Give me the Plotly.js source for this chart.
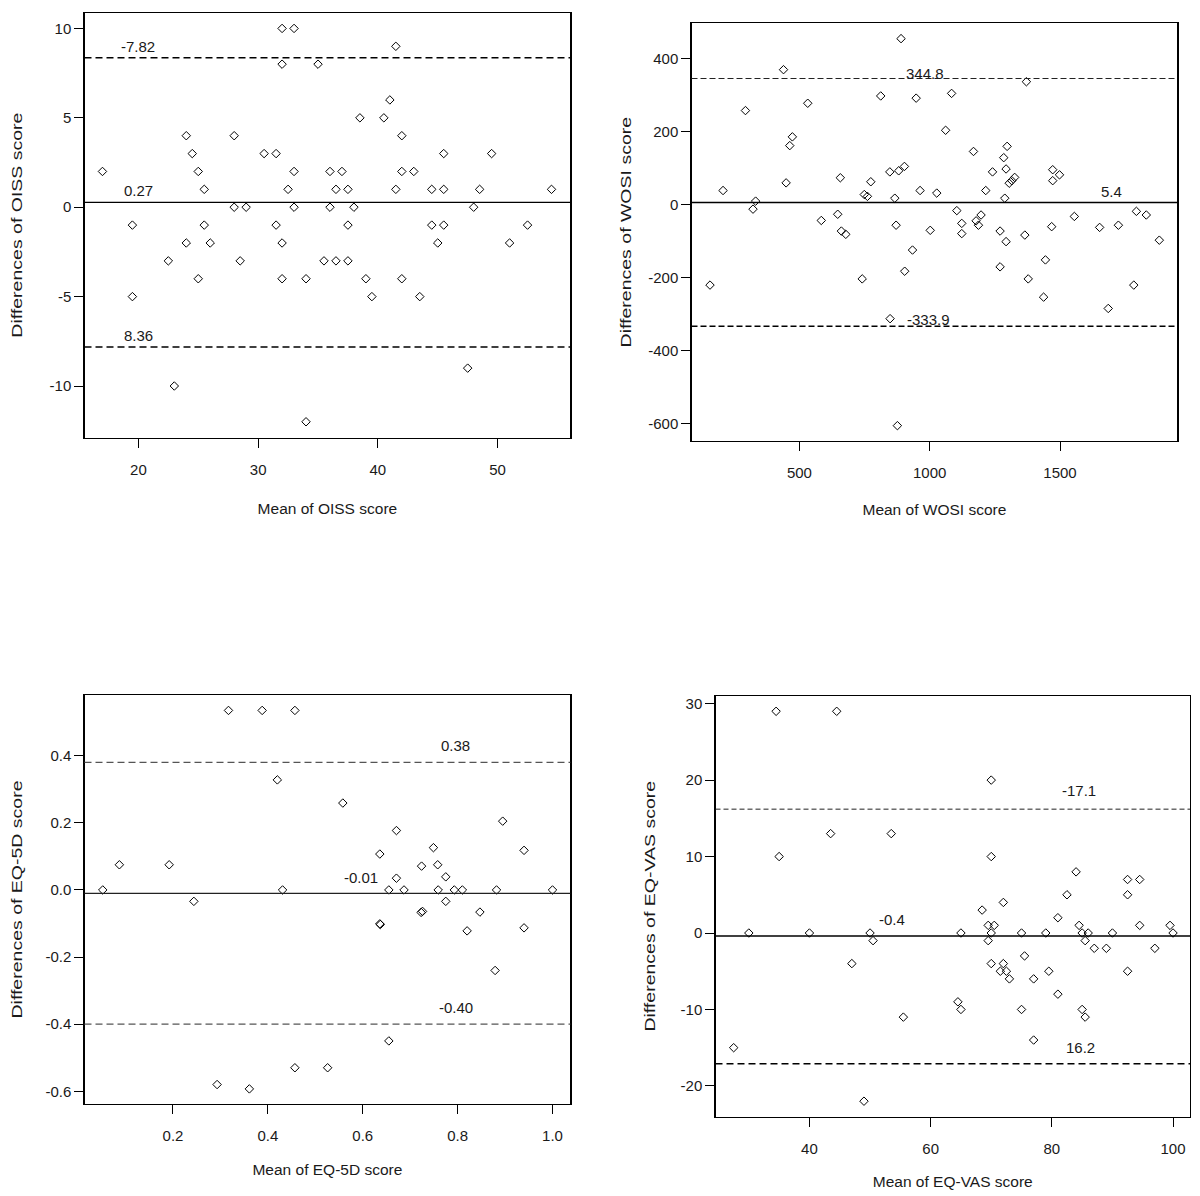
<!DOCTYPE html>
<html>
<head>
<meta charset="utf-8">
<script src="https://cdn.plot.ly/plotly-3.0.1.min.js"></script>
<style>html,body{margin:0;padding:0;background:#fff;}#chart{width:1200px;height:1196px;}</style>
</head>
<body>
<div id="chart"></div>
<script>
// ---------- Panel A: OISS ----------
const oissMean = [17,19.5,19.5,22.5,23,24,24,24.5,25,25,25.5,25.5,26,28,28,28.5,29,30.5,31.5,31.5,32,32,32,32,32.5,33,33,33,34,34,35,35.5,36,36,
  41.5,41,38.5,40.5,42,45.5,49.5,37,42,43,36.5,37.5,41.5,44.5,45.5,48.5,54.5,38,48,37.5,44.5,45.5,52.5,45,51,36.5,37.5,39,42,39.5,43.5,47.5];
const oissDiff = [2,-1,-5,-3,-10,4,-2,3,2,-4,1,-1,-2,4,0,-3,0,3,3,-1,10,8,-2,-4,1,10,2,0,-4,-12,8,-3,2,0,
  9,6,5,5,4,3,3,2,2,2,1,1,1,1,1,1,1,0,0,-1,-1,-1,-1,-2,-2,-3,-3,-4,-4,-5,-5,-9];
const oissLines = [8.36, 0.27, -7.82];
const oissLineLabels = ['-7.82', '0.27', '8.36'];
const oissLabelX = [20, 20, 20];
const oissXTicks = [20, 30, 40, 50];
const oissYTicks = [-10, -5, 0, 5, 10];

// ---------- Panel B: WOSI ----------
const wosiMean = [890,439,812,948,532,293,473,463,903,881,847,657,774,449,207,963,1027,749,761,866,332,322,647,584,871,661,678,1002,934,904,741,157,848,876,
  1371,1084,1061,1168,1297,1284,1293,1241,1326,1315,1305,1472,1498,1472,1215,1288,1104,1123,1123,1178,1187,1197,1270,1293,1365,1468,1555,1652,1724,1793,1831,1881,1270,1444,1378,1437,1783,1685];
const wosiDiff = [454,369,297,291,277,257,185,161,104,92,89,73,62,59,38,38,31,27,22,17,9,-13,-27,-44,-57,-73,-82,-71,-125,-183,-204,-221,-313,-606,
  336,304,203,145,159,128,97,89,74,65,58,95,81,65,38,17,-17,-52,-80,-45,-57,-29,-73,-102,-84,-61,-33,-63,-57,-19,-29,-98,-171,-152,-204,-254,-221,-285];
const wosiLines = [344.8, 5.4, -333.9];
const wosiLineLabels = ['344.8', '5.4', '-333.9'];
const wosiLabelX = [980, 1699, 995];
const wosiXTicks = [500, 1000, 1500];
const wosiYTicks = [-600, -400, -200, 0, 200, 400];

// ---------- Panel C: EQ-5D ----------
const eq5dMean = [0.317,0.388,0.457,0.420,0.087,0.192,0.052,0.431,0.244,0.293,0.361,0.457,0.526,
  0.558,0.895,0.671,0.940,0.636,0.749,0.724,0.758,0.775,0.671,0.655,0.687,0.759,0.793,0.810,0.882,1.0,0.775,0.847,0.723,0.726,0.636,0.637,0.820,0.940,0.879,0.655];
const eq5dDiff = [0.535,0.535,0.535,0.328,0.075,0.075,0,0,-0.034,-0.58,-0.593,-0.53,-0.53,
  0.259,0.205,0.177,0.118,0.107,0.126,0.071,0.075,0.039,0.035,0,0,0,0,0,0,0,-0.034,-0.066,-0.067,-0.064,-0.101,-0.103,-0.122,-0.113,-0.24,-0.45];
const eq5dLines = [0.38, -0.01, -0.40];
const eq5dLineLabels = ['0.38', '-0.01', '-0.40'];
const eq5dLabelX = [0.795, 0.596, 0.796];
const eq5dXTicks = [0.2, 0.4, 0.6, 0.8, 1.0];
const eq5dYTicks = [-0.6, -0.4, -0.2, 0.0, 0.2, 0.4];

// ---------- Panel D: EQ-VAS ----------
const vasMean = [34.5,44.5,43.5,53.5,35,30,40,50,50.5,47,55.5,27.5,49,
  70,70,84,92.5,94.5,82.5,92.5,72,68.5,81,69.5,70.5,84.5,94.5,99.5,65,70,75,79,85,86,90,100,69.5,85.5,87,89,97,75.5,70,72,71.5,72.5,79.5,92.5,73,77,81,64.5,65,75,85,85.5,77];
const vasDiff = [29,29,13,13,10,0,0,0,-1,-4,-11,-15,-22,
  20,10,8,7,7,5,5,4,3,2,1,1,1,1,1,0,0,0,0,0,0,0,0,-1,-1,-2,-2,-2,-3,-4,-4,-5,-5,-5,-5,-6,-6,-8,-9,-10,-10,-10,-11,-14];
const vasLines = [16.2, -0.4, -17.1];
const vasLineLabels = ['-17.1', '-0.4', '16.2'];
const vasLabelX = [84.5, 53.7, 84.7];
const vasXTicks = [40, 60, 80, 100];
const vasYTicks = [-20, -10, 0, 10, 20, 30];

// ---------- layout helpers ----------
const W = 1200, H = 1196;
const FONT = 'Liberation Sans, Arial, sans-serif';
const TXT = '#1a1a1a';
function px2dom(x0, x1) { return [x0 / W, x1 / W]; }
function py2dom(y0, y1) { return [1 - y1 / H, 1 - y0 / H]; }
function fmt(v, digits) { return (digits ? v.toFixed(digits) : String(v)); } // plain hyphen-minus

const panels = [
  {mean: oissMean, diff: oissDiff, lines: oissLines, labels: oissLineLabels, labelX: oissLabelX,
   xt: oissXTicks, yt: oissYTicks, xd: 0, yd: 0,
   xtitle: 'Mean of OISS score', ytitle: 'Differences of OISS score',
   xr: [15.5, 56.07], yr: [-12.88, 10.88], xpx: [84.5, 570.3], ypx: [12.7, 437.5],
   xstand: 26, ystand: 23,
   dash: ['7px,4px', 'solid', '7px,4px'], dcol: ['#000', '#000', '#000'], dw: [1.4, 1.4, 1.4], lshift: [1, 1, 1]},
  {mean: wosiMean, diff: wosiDiff, lines: wosiLines, labels: wosiLineLabels, labelX: wosiLabelX,
   xt: wosiXTicks, yt: wosiYTicks, xd: 0, yd: 0,
   xtitle: 'Mean of WOSI score', ytitle: 'Differences of WOSI score',
   xr: [86, 1950], yr: [-648, 496], xpx: [691.5, 1177.3], ypx: [23.3, 441],
   xstand: 24, ystand: 13,
   dash: ['6px,3px', 'solid', '6px,3px'], dcol: ['#222', '#000', '#000'], dw: [1.1, 1.4, 1.4], lshift: [-5, 0, -4]},
  {mean: eq5dMean, diff: eq5dDiff, lines: eq5dLines, labels: eq5dLineLabels, labelX: eq5dLabelX,
   xt: eq5dXTicks, yt: eq5dYTicks, xd: 1, yd: 1,
   xtitle: 'Mean of EQ-5D score', ytitle: 'Differences of EQ-5D score',
   xr: [0.0135, 1.0375], yr: [-0.638, 0.581], xpx: [84.5, 570.3], ypx: [695, 1104],
   xstand: 21, ystand: 19,
   dash: ['7px,4px', 'solid', '7px,4px'], dcol: ['#555', '#222', '#555'], dw: [1.2, 1.2, 1.2], lshift: [6, 5, 6]},
  {mean: vasMean, diff: vasDiff, lines: vasLines, labels: vasLineLabels, labelX: vasLabelX,
   xt: vasXTicks, yt: vasYTicks, xd: 0, yd: 0,
   xtitle: 'Mean of EQ-VAS score', ytitle: 'Differences of EQ-VAS score',
   xr: [24.5, 102.8], yr: [-24.04, 31.04], xpx: [715.5, 1190], ypx: [695.7, 1116.8],
   xstand: 20, ystand: 21,
   dash: ['5px,3px', 'solid', '7px,4px'], dcol: ['#222', '#000', '#000'], dw: [1.0, 1.4, 1.4], lshift: [8, 6, 6]}
];

const data = [];
const layout = {
  width: W, height: H,
  margin: {l: 0, r: 0, t: 0, b: 0},
  paper_bgcolor: '#fff', plot_bgcolor: '#fff',
  showlegend: false,
  font: {family: FONT, size: 15, color: TXT},
  shapes: [], annotations: []
};

panels.forEach((p, i) => {
  const n = i + 1;
  const xa = n === 1 ? 'x' : 'x' + n;
  const ya = n === 1 ? 'y' : 'y' + n;
  const xkey = n === 1 ? 'xaxis' : 'xaxis' + n;
  const ykey = n === 1 ? 'yaxis' : 'yaxis' + n;

  data.push({
    type: 'scatter', mode: 'markers', x: p.mean, y: p.diff, xaxis: xa, yaxis: ya,
    marker: {symbol: 'diamond-open', size: 6.5, color: '#000', line: {width: 1, color: '#000'}},
    hoverinfo: 'x+y'
  });

  const common = {
    showgrid: false, zeroline: false, showline: true, mirror: true,
    linecolor: '#000', linewidth: 1.2,
    ticks: 'outside', ticklen: 9, tickwidth: 1, tickcolor: '#000',
    tickfont: {family: FONT, size: 15, color: TXT},
    tickmode: 'array', fixedrange: true
  };
  layout[xkey] = Object.assign({}, common, {
    domain: px2dom(p.xpx[0], p.xpx[1]), range: p.xr, anchor: ya,
    tickvals: p.xt, ticktext: p.xt.map(v => fmt(v, p.xd)), ticklabelstandoff: 9,
    title: {text: p.xtitle, font: {family: FONT, size: 15.5, color: TXT}, standoff: p.xstand}
  });
  layout[ykey] = Object.assign({}, common, {
    domain: py2dom(p.ypx[0], p.ypx[1]), range: p.yr, anchor: xa,
    tickvals: p.yt, ticktext: p.yt.map(v => fmt(v, p.yd)),
    title: {text: p.ytitle, font: {family: FONT, size: 15, color: TXT}, standoff: p.ystand}
  });

  p.lines.forEach((v, k) => {
    layout.shapes.push({
      type: 'line', xref: xa + ' domain', yref: ya, x0: 0, x1: 1, y0: v, y1: v,
      line: {color: p.dcol[k], width: p.dw[k], dash: p.dash[k]}
    });
    layout.annotations.push({
      xref: xa, yref: ya, x: p.labelX[k], y: v, text: p.labels[k],
      showarrow: false, xanchor: 'center', yanchor: 'bottom', yshift: p.lshift[k],
      font: {family: FONT, size: 15, color: TXT}
    });
  });
});

Plotly.newPlot('chart', data, layout, {displayModeBar: false, staticPlot: true}).then(gd => {
  // The source image is stretched vertically: lengthen the rotated y-axis titles accordingly.
  gd.querySelectorAll('text').forEach(t => {
    const cls = t.getAttribute('class') || '';
    if (/^y\d*title$/.test(cls)) {
      const len = t.getComputedTextLength();
      t.setAttribute('textLength', (len * 1.3).toFixed(1));
      t.setAttribute('lengthAdjust', 'spacingAndGlyphs');
    }
  });
});
</script>
</body>
</html>
